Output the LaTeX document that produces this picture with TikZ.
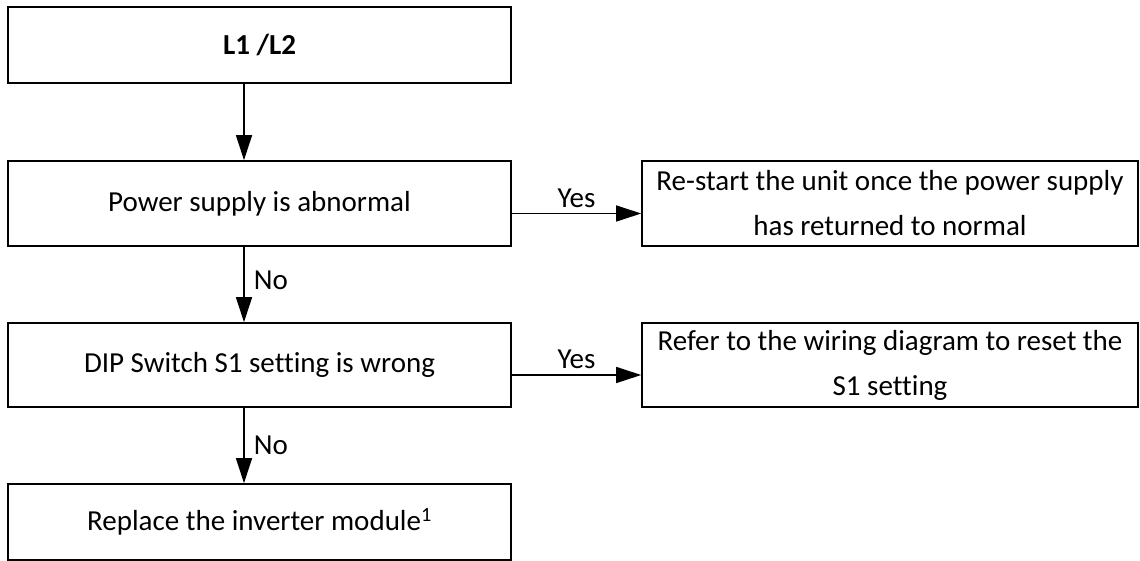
\documentclass[tikz,border=0pt]{standalone}
\usepackage{fontspec}
\setmainfont{Carlito}[Ligatures=NoCommon]
\usetikzlibrary{arrows.meta,calc}

\begin{document}
\begin{tikzpicture}[x=1pt,y=-1pt,
    box/.style={draw, line width=1.6pt, align=center, inner sep=0pt},
    arr/.style={-{Triangle[length=25pt,width=16pt]}, line width=1.3pt},
    every node/.style={font=\fontsize{29}{45}\selectfont}]
    \useasboundingbox (0,0) rectangle (1140,561);

    % left column
    \node[box, minimum width=503pt, minimum height=76pt] (lcode) at (259.5,45) {\textbf{L1 /L2}};
    \node[box, minimum width=503pt, minimum height=85pt] (power) at (259.5,203.5) {Power supply is abnormal};
    \node[box, minimum width=503pt, minimum height=84pt] (dip) at (259.5,365) {DIP Switch S1 setting is wrong};
    \node[box, minimum width=503pt, minimum height=76pt] (inv) at (259.5,522) {Replace the inverter module\textsuperscript{1}};

    % right column
    \node[box, minimum width=496pt, minimum height=85pt] (restart) at (890,203.5) {Re-start the unit once the power supply\\has returned to normal};
    \node[box, minimum width=496pt, minimum height=84pt] (reset) at (890,365) {Refer to the wiring diagram to reset the\\S1 setting};

    \coordinate (ax) at (244,0);

    \draw[arr] (lcode.south -| ax) -- (power.north -| ax);
    \draw[arr] (power.south -| ax) -- (dip.north -| ax) node[pos=0.45, right=6pt]{No};
    \draw[arr] (dip.south -| ax) -- (inv.north -| ax) node[pos=0.5, right=6pt]{No};

    \draw[arr] ($(power.east)+(0,10)$) -- ($(restart.west)+(0,10)$) node[midway, above=2pt]{Yes};
    \draw[arr] ($(dip.east)+(0,10)$) -- ($(reset.west)+(0,10)$) node[midway, above=2pt]{Yes};
\end{tikzpicture}
\end{document}
